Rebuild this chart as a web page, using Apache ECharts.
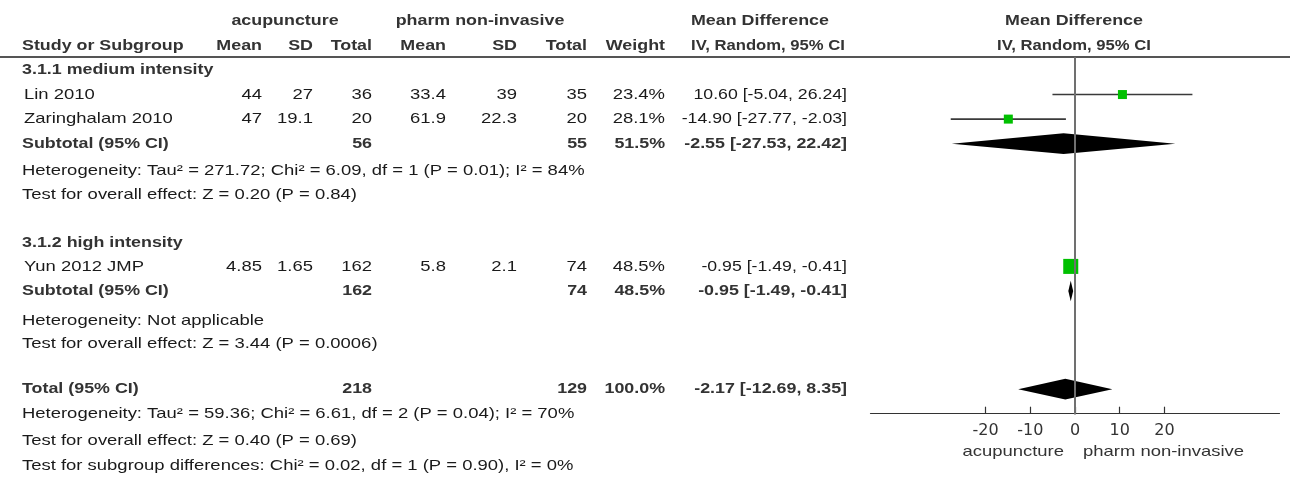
<!DOCTYPE html>
<html>
<head>
<meta charset="utf-8">
<script src="https://cdn.jsdelivr.net/npm/echarts@6/dist/echarts.min.js"></script>
<style>
  html, body { margin: 0; padding: 0; background: #fff; }
  #chart { width: 1290px; height: 478px; }
</style>
</head>
<body>
<div id="chart"></div>
<script>
// studies
const studyNames = ["Lin 2010", "Zaringhalam 2010", "Yun 2012 JMP"];
const studyRows = [1, 2, 8];
const acuMean = [44, 47, 4.85];
const acuSD = [27, 19.1, 1.65];
const acuTotal = [36, 20, 162];
const phMean = [33.4, 61.9, 5.8];
const phSD = [39, 22.3, 2.1];
const phTotal = [35, 20, 74];
const studyWeight = [23.4, 28.1, 48.5];
const studyMD = [10.6, -14.9, -0.95];
const studyLo = [-5.04, -27.77, -1.49];
const studyHi = [26.24, -2.03, -0.41];

// subtotals + total
const poolNames = ["Subtotal (95% CI)", "Subtotal (95% CI)", "Total (95% CI)"];
const poolRows = [3, 9, 13];
const poolAcuTotal = [56, 162, 218];
const poolPhTotal = [55, 74, 129];
const poolWeight = [51.5, 48.5, 100.0];
const poolMD = [-2.55, -0.95, -2.17];
const poolLo = [-27.53, -1.49, -12.69];
const poolHi = [22.42, -0.41, 8.35];

const groupTitles = ["3.1.1 medium intensity", "3.1.2 high intensity"];
const groupRows = [0, 7.05];

const notes = [
  "Heterogeneity: Tau\u00b2 = 271.72; Chi\u00b2 = 6.09, df = 1 (P = 0.01); I\u00b2 = 84%",
  "Test for overall effect: Z = 0.20 (P = 0.84)",
  "Heterogeneity: Not applicable",
  "Test for overall effect: Z = 3.44 (P = 0.0006)",
  "Heterogeneity: Tau\u00b2 = 59.36; Chi\u00b2 = 6.61, df = 2 (P = 0.04); I\u00b2 = 70%",
  "Test for overall effect: Z = 0.40 (P = 0.69)",
  "Test for subgroup differences: Chi\u00b2 = 0.02, df = 1 (P = 0.90), I\u00b2 = 0%"
];
const noteRows = [4.11, 5.09, 10.22, 11.16, 14.01, 15.11, 16.13];

const xTicks = [-20, -10, 0, 10, 20];
const xMin = -45.7, xMax = 45.7;

// layout
const rowY = i => 70 + 24.55 * i;
const FONT = '"Liberation Sans", Arial, sans-serif';
const SIZE = 15;
// source text is rendered wider than Arial
const SX = 1.23, SX_BOLD = 1.19;
const colRight = { acuMean: 262, acuSD: 313, acuTotal: 372, phMean: 446, phSD: 517, phTotal: 587, weight: 665, ci: 847 };

const fmtCI = (m, l, h) => m.toFixed(2) + " [" + l.toFixed(2) + ", " + h.toFixed(2) + "]";

const texts = [];
function txt(s, x, row, opts) {
  opts = opts || {};
  texts.push({
    type: "text",
    x: x,
    y: rowY(row),
    scaleX: opts.sx || (opts.bold ? SX_BOLD : SX),
    silent: true,
    style: {
      text: s,
      fill: opts.bold ? "#333" : "#1a1a1a",
      font: (opts.bold ? "bold " : "") + SIZE + "px " + FONT,
      textAlign: opts.align || "left",
      textVerticalAlign: "middle"
    }
  });
}

// header
txt("acupuncture", 285, -2, { bold: true, align: "center" });
txt("pharm non-invasive", 480, -2, { bold: true, align: "center" });
txt("Mean Difference", 691, -2, { bold: true });
txt("Mean Difference", 1074, -2, { bold: true, align: "center" });
txt("Study or Subgroup", 22, -1, { bold: true });
txt("Mean", colRight.acuMean, -1, { bold: true, align: "right" });
txt("SD", colRight.acuSD, -1, { bold: true, align: "right" });
txt("Total", colRight.acuTotal, -1, { bold: true, align: "right" });
txt("Mean", colRight.phMean, -1, { bold: true, align: "right" });
txt("SD", colRight.phSD, -1, { bold: true, align: "right" });
txt("Total", colRight.phTotal, -1, { bold: true, align: "right" });
txt("Weight", colRight.weight, -1, { bold: true, align: "right" });
txt("IV, Random, 95% CI", 691, -1, { bold: true, sx: 1.11 });
txt("IV, Random, 95% CI", 1074, -1, { bold: true, align: "center", sx: 1.11 });

groupTitles.forEach((g, i) => txt(g, 22, groupRows[i], { bold: true }));

studyNames.forEach((n, i) => {
  const r = studyRows[i];
  txt(n, 24, r);
  txt(String(acuMean[i]), colRight.acuMean, r, { align: "right" });
  txt(String(acuSD[i]), colRight.acuSD, r, { align: "right" });
  txt(String(acuTotal[i]), colRight.acuTotal, r, { align: "right" });
  txt(String(phMean[i]), colRight.phMean, r, { align: "right" });
  txt(String(phSD[i]), colRight.phSD, r, { align: "right" });
  txt(String(phTotal[i]), colRight.phTotal, r, { align: "right" });
  txt(studyWeight[i].toFixed(1) + "%", colRight.weight, r, { align: "right" });
  txt(fmtCI(studyMD[i], studyLo[i], studyHi[i]), colRight.ci, r, { align: "right", sx: 1.18 });
});

poolNames.forEach((n, i) => {
  const r = poolRows[i];
  txt(n, 22, r, { bold: true });
  txt(String(poolAcuTotal[i]), colRight.acuTotal, r, { bold: true, align: "right" });
  txt(String(poolPhTotal[i]), colRight.phTotal, r, { bold: true, align: "right" });
  txt(poolWeight[i].toFixed(1) + "%", colRight.weight, r, { bold: true, align: "right" });
  txt(fmtCI(poolMD[i], poolLo[i], poolHi[i]), colRight.ci, r, { bold: true, align: "right" });
});

notes.forEach((n, i) => txt(n, 22, noteRows[i]));

const chart = echarts.init(document.getElementById("chart"), null, { renderer: "canvas" });

chart.setOption({
  animation: false,
  grid: { left: 870.5, right: 10.5, top: rowY(-0.5), height: 24.55 * 14.5 },
  xAxis: {
    type: "value",
    min: xMin,
    max: xMax,
    splitLine: { show: false },
    axisLine: { onZero: false, lineStyle: { color: "#333", width: 1.2 } },
    axisTick: { inside: true, length: 7, customValues: xTicks, lineStyle: { color: "#333", width: 1.2 } },
    axisLabel: { customValues: xTicks, color: "#333", fontSize: 16, fontFamily: '"DejaVu Sans", sans-serif', margin: 9 }
  },
  yAxis: {
    type: "value",
    inverse: true,
    min: -0.5,
    max: 14,
    z: 10,
    splitLine: { show: false },
    axisTick: { show: false },
    axisLabel: { show: false },
    axisLine: { show: true, onZero: true, lineStyle: { color: "#707070", width: 2 } }
  },
  graphic: texts.concat([
    { type: "line", shape: { x1: 0, y1: 57, x2: 1290, y2: 57 }, style: { stroke: "#555", lineWidth: 2 }, silent: true },
    { type: "text", x: 1064, y: 452, scaleX: SX, style: { text: "acupuncture", fill: "#333", font: "15px " + FONT, textAlign: "right", textVerticalAlign: "middle" } },
    { type: "text", x: 1083, y: 452, scaleX: SX, style: { text: "pharm non-invasive", fill: "#333", font: "15px " + FONT, textAlign: "left", textVerticalAlign: "middle" } }
  ]),
  series: [
    {
      type: "custom",
      name: "studies",
      data: studyMD.map((m, i) => [m, studyLo[i], studyHi[i], studyRows[i], studyWeight[i]]),
      renderItem: function (params, api) {
        const row = api.value(3);
        const pm = api.coord([api.value(0), row]);
        const pl = api.coord([api.value(1), row]);
        const ph = api.coord([api.value(2), row]);
        const s = Math.max(9, api.value(4) * 0.31);
        return {
          type: "group",
          children: [
            { type: "line", shape: { x1: pl[0], y1: pl[1], x2: ph[0], y2: ph[1] }, style: { stroke: "#3a3a3a", lineWidth: 1.6 } },
            { type: "rect", shape: { x: pm[0] - s / 2, y: pm[1] - s / 2, width: s, height: s }, style: { fill: "#00c000" } }
          ]
        };
      }
    },
    {
      type: "custom",
      name: "pooled",
      data: poolMD.map((m, i) => [m, poolLo[i], poolHi[i], poolRows[i]]),
      renderItem: function (params, api) {
        const row = api.value(3);
        const pm = api.coord([api.value(0), row]);
        const pl = api.coord([api.value(1), row]);
        const ph = api.coord([api.value(2), row]);
        const h = 10.3;
        return {
          type: "polygon",
          shape: { points: [[pl[0], pm[1]], [pm[0], pm[1] - h], [ph[0], pm[1]], [pm[0], pm[1] + h]] },
          style: { fill: "#000" }
        };
      }
    }
  ]
});
</script>
</body>
</html>
